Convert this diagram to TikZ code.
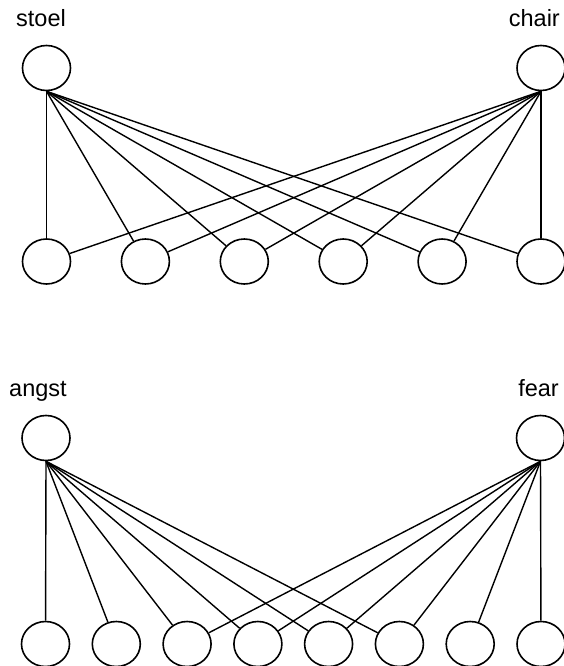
\documentclass[tikz,border=0pt]{standalone}
\usepackage{fontspec}
\setmainfont{Liberation Sans}
\usetikzlibrary{shapes.geometric}

\begin{document}
\begin{tikzpicture}[x=1pt,y=-1pt,
 unit/.style={draw,ellipse,line width=1.6pt,inner sep=0pt,minimum width=48pt,minimum height=45pt},
 word/.style={font=\fontsize{23.5}{26}\selectfont,inner sep=0pt,anchor=base},
 link/.style={line width=1.4pt}]
\useasboundingbox (0,0) rectangle (563,666);

% Dutch/English pair: stoel -- chair
\node[word,anchor=base west] (stoellbl) at (16,27) {stoel};
\node[word,anchor=base east] (chairlbl) at (560,27) {chair};
\node[unit] (stoel) at (46.5,68) {};
\node[unit] (chair) at (541,68) {};
\node[unit] (s1) at (46.5,261.5) {};
\node[unit] (s2) at (145.4,261.5) {};
\node[unit] (s3) at (244.3,261.5) {};
\node[unit] (s4) at (343.2,261.5) {};
\node[unit] (s5) at (442.1,261.5) {};
\node[unit] (s6) at (541,261.5) {};
\foreach \t in {s1,s2,s3,s4,s5,s6}
 \draw[link] (stoel.south)--(\t);
\foreach \t in {s1,s2,s3,s4,s5,s6}
 \draw[link] (chair.south)--(\t);

% Dutch/English pair: angst -- fear
\node[word,anchor=base west] (angstlbl) at (9,396) {angst};
\node[word,anchor=base east] (fearlbl) at (559,396) {fear};
\node[unit] (angst) at (46,438) {};
\node[unit] (fear) at (540.5,438) {};
\node[unit] (f1) at (45.5,644) {};
\node[unit] (f2) at (116.3,644) {};
\node[unit] (f3) at (187.1,644) {};
\node[unit] (f4) at (257.9,644) {};
\node[unit] (f5) at (328.6,644) {};
\node[unit] (f6) at (399.4,644) {};
\node[unit] (f7) at (470.2,644) {};
\node[unit] (f8) at (541,644) {};
\foreach \t in {f1,f2,f3,f4,f5,f6}
 \draw[link] (angst.south)--(\t);
\foreach \t in {f3,f4,f5,f6,f7,f8}
 \draw[link] (fear.south)--(\t);
\end{tikzpicture}
\end{document}
